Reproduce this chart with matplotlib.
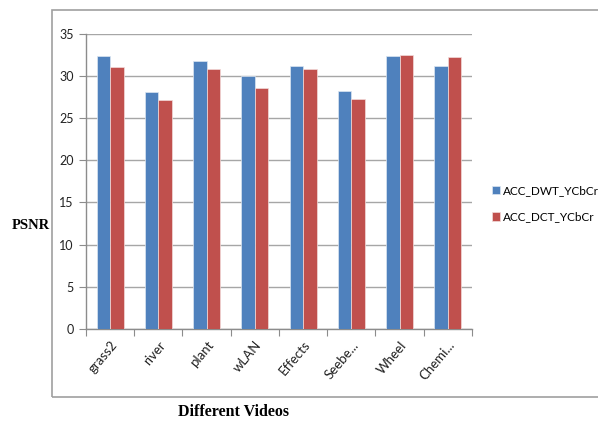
import matplotlib
matplotlib.use("Agg")
import matplotlib.pyplot as plt
import numpy as np
from matplotlib.patches import Rectangle

categories = ["grass2", "river", "plant", "wLAN", "Effects", "Seebe...", "Wheel", "Chemi..."]
dwt = [32.3, 28.05, 31.8, 30.0, 31.15, 28.2, 32.3, 31.2]
dct = [31.05, 27.1, 30.75, 28.6, 30.75, 27.2, 32.5, 32.2]
series_names = ["ACC_DWT_YCbCr", "ACC_DCT_YCbCr"]
yticks = [0, 5, 10, 15, 20, 25, 30, 35]

blue = "#4F81BD"
red = "#C0504D"
grid_c = "#A6A6A6"
axis_c = "#8C8C8C"

plt.rcParams['font.family'] = ['Lato', 'DejaVu Sans']

fig = plt.figure(figsize=(5.98, 4.23), dpi=100)
fig.patches.append(Rectangle((0.087, 0.062), 0.93, 0.914, transform=fig.transFigure,
                             fill=False, edgecolor="#A0A0A0", linewidth=1.2, zorder=0))

ax = fig.add_axes([0.1438, 0.2222, 0.6455, 0.6986])
x = np.arange(len(categories))
w = 0.28
ax.bar(x - w/2, dwt, w, color=blue, edgecolor="#DCE6F2", linewidth=0.5, label=series_names[0], zorder=3)
ax.bar(x + w/2, dct, w, color=red, edgecolor="#F2DCDB", linewidth=0.5, label=series_names[1], zorder=3)

ax.set_xlim(-0.5, len(categories) - 0.5)
ax.set_ylim(0, 35)
ax.set_yticks(yticks)
ax.yaxis.grid(True, color=grid_c, linewidth=1.0, zorder=0)
ax.set_axisbelow(True)
for s in ["top", "right"]:
    ax.spines[s].set_visible(False)
for s in ["left", "bottom"]:
    ax.spines[s].set_color(axis_c)
    ax.spines[s].set_linewidth(1.0)

ax.set_xticks(np.arange(len(categories) + 1) - 0.5, minor=False)
ax.set_xticklabels([])
ax.set_xticks(x, minor=True)
ax.set_xticklabels(categories, minor=True, rotation=50, ha="right", va="top",
                   rotation_mode="anchor", fontsize=9.5, color="#222222")
ax.tick_params(axis="x", which="minor", length=0, pad=7)
ax.tick_params(axis="x", which="major", length=5, color=axis_c, direction="out")
ax.tick_params(axis="y", length=5, color=axis_c, direction="out", labelsize=9, labelcolor="#222222", pad=4)

fig.text(0.02, 0.468, "PSNR", family="Liberation Serif", fontweight="bold", fontsize=10.5, va="center", ha="left")
fig.text(0.39, 0.025, "Different Videos", family="Liberation Serif", fontweight="bold", fontsize=11.5, va="center", ha="center")

leg = fig.legend(loc="center left", bbox_to_anchor=(0.805, 0.518), frameon=False, fontsize=8.5,
                 handlelength=0.7, handleheight=0.7, handletextpad=0.2, labelspacing=1.3)

fig.savefig("out.png", dpi=100)
